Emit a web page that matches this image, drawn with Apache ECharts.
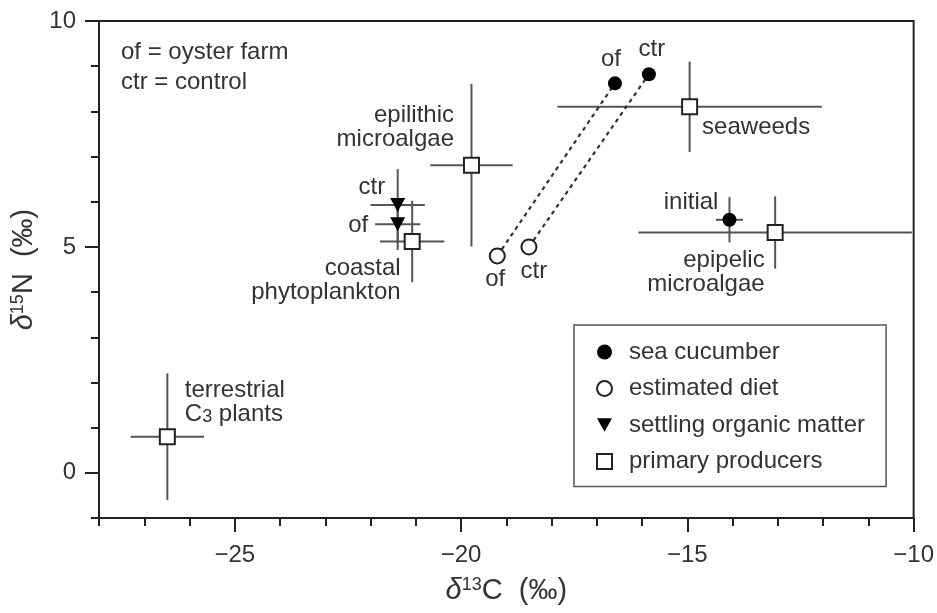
<!DOCTYPE html>
<html>
<head>
<meta charset="utf-8">
<script src="https://cdn.jsdelivr.net/npm/echarts@6/dist/echarts.min.js"></script>
<style>
  html, body { margin: 0; padding: 0; background: #fff; }
  #main { width: 937px; height: 613px; }
</style>
</head>
<body>
<div id="main"></div>
<script>
// δ13C / δ15N values
var seriesNames = ['sea cucumber', 'estimated diet', 'settling organic matter', 'primary producers'];

var cucumberLabels = ['of', 'ctr', 'initial'];
var cucumberPts = [[-16.6, 8.62], [-15.85, 8.82], [-14.07, 5.6]];
var cucumberErr = [[0.12, 0.12], [0.1, 0.1], [0.3, 0.5]];

var dietLabels = ['of', 'ctr'];
var dietPts = [[-19.2, 4.8], [-18.5, 5.0]];

var settlingLabels = ['ctr', 'of'];
var settlingPts = [[-21.4, 5.93], [-21.4, 5.5]];
var settlingErr = [[0.6, 0.79], [0.5, 0.57]];

var producerLabels = ['epilithic\nmicroalgae', 'coastal\nphytoplankton', 'seaweeds', 'epipelic\nmicroalgae', 'terrestrial\nC{sub|3} plants'];
var producerPts = [[-19.77, 6.81], [-21.08, 5.12], [-14.95, 8.1], [-13.06, 5.32], [-26.49, 0.8]];
var producerErr = [[0.91, 1.8], [0.71, 0.9], [2.92, 1.0], [3.02, 0.8], [0.81, 1.4]];

var xTicks = [-25, -20, -15, -10];
var yTicks = [0, 5, 10];

var FONT = "'Liberation Sans', Arial, sans-serif";
var TXT = '#333';
var AX = '#222';
var FS = 24;

// label placement per point (pixel offsets, not data)
var cucumberLabelPos = [
  { position: 'top', distance: 5, offset: [-4, 0] },
  { position: 'top', distance: 6, offset: [3, 0] },
  { position: 'left', distance: 4, offset: [0, -17] }
];
var dietLabelPos = [
  { position: 'bottom', distance: 3, offset: [-2, 0] },
  { position: 'bottom', distance: 4, offset: [5, 0] }
];
var settlingLabelPos = [
  { position: 'left', distance: 5, offset: [0, -18] },
  { position: 'left', distance: 22, offset: [0, 1] }
];
var producerLabelPos = [
  { position: 'left', distance: 9, offset: [0, -38] },
  { position: 'left', distance: 3, offset: [0, 39] },
  { position: 'right', distance: 4, offset: [0, 21] },
  { position: 'left', distance: 2, offset: [0, 40] },
  { position: 'right', distance: 9, offset: [0, -34] }
];

function withLabels(pts, names, pos) {
  return pts.map(function (p, i) {
    return {
      value: p,
      label: Object.assign({ show: true, formatter: names[i] }, pos[i])
    };
  });
}

function errData(pts, err) {
  return pts.map(function (p, i) { return [p[0], p[1], err[i][0], err[i][1]]; });
}

var allErr = []
  .concat(errData(cucumberPts, cucumberErr))
  .concat(errData(settlingPts, settlingErr))
  .concat(errData(producerPts, producerErr));

function renderErr(params, api) {
  var x = api.value(0), y = api.value(1), ex = api.value(2), ey = api.value(3);
  var l = api.coord([x - ex, y]), r = api.coord([x + ex, y]);
  var t = api.coord([x, y + ey]), b = api.coord([x, y - ey]);
  var st = { stroke: '#555', lineWidth: 2 };
  return {
    type: 'group',
    children: [
      { type: 'line', shape: { x1: l[0], y1: l[1], x2: r[0], y2: r[1] }, style: st },
      { type: 'line', shape: { x1: b[0], y1: b[1], x2: t[0], y2: t[1] }, style: st }
    ]
  };
}

var labelText = { color: TXT, fontSize: FS, fontFamily: FONT, lineHeight: 24,
  rich: { sub: { fontSize: 18, fontFamily: FONT, color: TXT, padding: [5, 0, 0, 0] } } };

var dashLines = dietPts.map(function (d, i) {
  return {
    type: 'line',
    data: [d, cucumberPts[i]],
    symbol: 'none',
    silent: true,
    z: 1,
    lineStyle: { color: '#333', width: 2.2, type: [4, 4] }
  };
});

var tri = 'path://M0,0L10,0L5,9Z';

var nameStyle = {
  fontSize: 29, color: TXT, fontFamily: FONT,
  rich: {
    d: { fontSize: 29, fontStyle: 'italic', color: TXT, fontFamily: FONT },
    sup: { fontSize: 18, color: TXT, fontFamily: FONT, padding: [0, 0, 12, 0] }
  }
};

var chart = echarts.init(document.getElementById('main'), null, { renderer: 'canvas' });

var option = {
  animation: false,
  backgroundColor: '#fff',
  textStyle: { fontFamily: FONT },
  title: {
    text: 'of = oyster farm\nctr = control',
    left: 121,
    top: 37,
    padding: 0,
    textStyle: { fontSize: FS, fontWeight: 'normal', color: TXT, lineHeight: 30, fontFamily: FONT }
  },
  grid: {
    left: 99, right: 22, top: 21, bottom: 95,
    show: true, borderColor: AX, borderWidth: 2, backgroundColor: 'transparent'
  },
  legend: {
    orient: 'vertical',
    left: 574,
    top: 325,
    padding: [15, 21, 13, 22],
    itemGap: 12.5,
    itemWidth: 15,
    itemHeight: 15,
    borderColor: '#555',
    borderWidth: 1.5,
    backgroundColor: '#fff',
    selectedMode: false,
    data: seriesNames,
    textStyle: { fontSize: FS, color: TXT, fontFamily: FONT, lineHeight: 24, padding: [0, 0, 0, 12] }
  },
  xAxis: [{
    type: 'value', min: -28, max: -10,
    position: 'bottom',
    name: '{d|δ}{sup|13}C  (‰)',
    nameLocation: 'middle',
    nameGap: 58,
    nameTextStyle: nameStyle,
    axisLine: { show: true, onZero: false, lineStyle: { color: AX, width: 2 } },
    axisTick: { show: true, customValues: xTicks, length: 14, lineStyle: { color: AX, width: 2 } },
    axisLabel: {
      customValues: xTicks, fontSize: FS, color: TXT, margin: 25, fontFamily: FONT,
      formatter: function (v) { return String(v).replace('-', '\u2212'); }
    },
    splitLine: { show: false }
  }, {
    type: 'value', min: -28, max: -10, interval: 1,
    position: 'bottom',
    axisLine: { show: false, onZero: false },
    axisTick: { show: true, length: 8, lineStyle: { color: AX, width: 2 } },
    axisLabel: { show: false },
    splitLine: { show: false }
  }],
  yAxis: [{
    type: 'value', min: -1, max: 10,
    position: 'left',
    name: '{d|δ}{sup|15}N  (‰)',
    nameLocation: 'middle',
    nameGap: 55,
    nameTextStyle: nameStyle,
    axisLine: { show: true, onZero: false, lineStyle: { color: AX, width: 2 } },
    axisTick: { show: true, customValues: yTicks, length: 14, lineStyle: { color: AX, width: 2 } },
    axisLabel: { customValues: yTicks, fontSize: FS, color: TXT, margin: 23, fontFamily: FONT },
    splitLine: { show: false }
  }, {
    type: 'value', min: -1, max: 10, interval: 1,
    position: 'left',
    axisLine: { show: false, onZero: false },
    axisTick: { show: true, length: 8, lineStyle: { color: AX, width: 2 } },
    axisLabel: { show: false },
    splitLine: { show: false }
  }],
  series: [
    {
      type: 'custom',
      renderItem: renderErr,
      data: allErr,
      encode: { x: 0, y: 1 },
      silent: true,
      z: 1
    }
  ].concat(dashLines).concat([
    {
      name: seriesNames[0],
      type: 'scatter',
      symbol: 'circle',
      symbolSize: 14,
      itemStyle: { color: '#000', opacity: 1 },
      label: labelText,
      data: withLabels(cucumberPts, cucumberLabels, cucumberLabelPos),
      z: 3
    },
    {
      name: seriesNames[1],
      type: 'scatter',
      symbol: 'circle',
      symbolSize: 15,
      itemStyle: { color: '#fff', borderColor: '#222', borderWidth: 2, opacity: 1 },
      label: labelText,
      data: withLabels(dietPts, dietLabels, dietLabelPos),
      z: 3
    },
    {
      name: seriesNames[2],
      type: 'scatter',
      symbol: tri,
      symbolSize: [15, 14],
      itemStyle: { color: '#000', opacity: 1 },
      label: labelText,
      data: withLabels(settlingPts, settlingLabels, settlingLabelPos),
      z: 3
    },
    {
      name: seriesNames[3],
      type: 'scatter',
      symbol: 'rect',
      symbolSize: 15,
      itemStyle: { color: '#fff', borderColor: '#222', borderWidth: 2, opacity: 1 },
      label: labelText,
      data: withLabels(producerPts, producerLabels, producerLabelPos),
      z: 3
    }
  ])
};

chart.setOption(option);
</script>
</body>
</html>
